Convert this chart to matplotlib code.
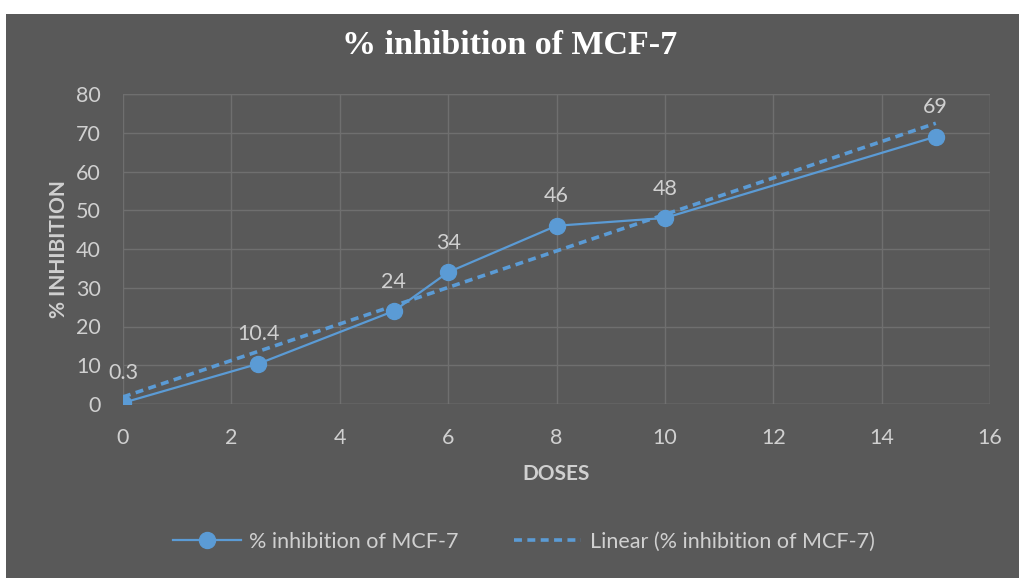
# % inhibition of MCF-7 line chart with linear trendline

import numpy as np
import matplotlib.pyplot as plt
from matplotlib.patches import Rectangle

# Data
doses = np.array([0, 2.5, 5, 6, 8, 10, 15])
inhibition = np.array([0.3, 10.4, 24, 34, 46, 48, 69])
labels = ['0.3', '10.4', '24', '34', '46', '48', '69']

# Trendline (least squares)
a1, a0 = np.polyfit(doses, inhibition, 1)
xx = np.array([doses.min(), doses.max()])
yy = a0 + a1*xx

bg = '#595959'
blue = '#5B9BD5'
txt = '#d0d0d0'
grid = '#6f6f6f'

fig = plt.figure(figsize=(10.19, 5.78), dpi=100, facecolor=bg)
# white strip at top and left edge
fig.patches.append(Rectangle((0, 1 - 14/578), 1, 14/578, transform=fig.transFigure,
                             facecolor='white', edgecolor='none', zorder=0))
fig.patches.append(Rectangle((0, 0), 6/1019, 1, transform=fig.transFigure,
                             facecolor='white', edgecolor='none', zorder=0))

ax = fig.add_axes([123/1019, 1 - 404/578, (990 - 123)/1019, (404 - 94)/578])
ax.set_facecolor(bg)

ax.plot(xx, yy, '--', color=blue, lw=2.6, dashes=(2.2, 1.5),
        label='Linear (% inhibition of MCF-7)', zorder=3)
ax.plot(doses, inhibition, '-o', color=blue, lw=1.6, ms=11.5,
        label='% inhibition of MCF-7', zorder=4)

for x, y, s in zip(doses, inhibition, labels):
    ax.annotate(s, (x, y), textcoords='offset points', xytext=(0, 14),
                ha='center', va='bottom', color=txt, fontsize=15.5, family='Lato')

ax.set_xlim(0, 16)
ax.set_ylim(0, 80)
ax.set_xticks(range(0, 17, 2))
ax.set_yticks(range(0, 81, 10))
ax.grid(True, color=grid, lw=1)
ax.set_axisbelow(True)
for sp in ax.spines.values():
    sp.set_visible(False)
ax.axvline(16, color=grid, lw=1, zorder=0)
ax.axhline(80, color=grid, lw=1, zorder=0)
ax.axhline(0, color='#7a7a7a', lw=1, zorder=1)
ax.tick_params(axis='x', length=0, colors=txt, labelsize=15.5, pad=17)
ax.tick_params(axis='y', length=0, colors=txt, labelsize=15.5, pad=16)
for t in ax.get_xticklabels() + ax.get_yticklabels():
    t.set_family('Lato')

ax.set_xlabel('DOSES', color=txt, fontsize=15, fontweight='bold', family='Lato', labelpad=12)
ax.set_ylabel('% INHIBITION', color=txt, fontsize=15, fontweight='bold', family='Lato', labelpad=5)

fig.text(0.5, 1 - 45/578, '% inhibition of MCF-7', ha='center', va='center',
         color='white', fontsize=24.5, fontweight='bold', family='Liberation Serif')

handles, lbls = ax.get_legend_handles_labels()
leg = fig.legend(handles[::-1], lbls[::-1], loc='center', bbox_to_anchor=(0.514, 1 - 542/578),
                 ncol=2, frameon=False, columnspacing=2.55, handlelength=3.15, handletextpad=0.4,
                 prop={'family': 'Lato', 'size': 15.5})
for t in leg.get_texts():
    t.set_color(txt)

fig.savefig('out.png', dpi=100, facecolor=bg)
